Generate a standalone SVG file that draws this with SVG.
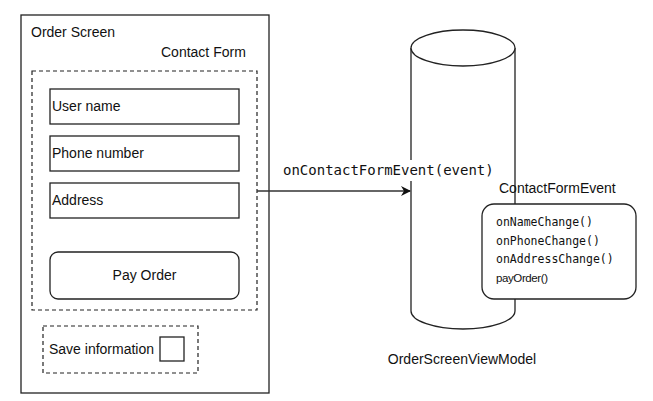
<svg xmlns="http://www.w3.org/2000/svg" width="653" height="401" viewBox="0 0 653 401">
<defs>
<style>
.box{fill:#fff;stroke:#222;stroke-width:1.3}
.dash{fill:none;stroke:#222;stroke-width:1.2;stroke-dasharray:4 3}
.t{font-family:"Liberation Sans",Arial,sans-serif;font-size:14px;fill:#111}
.m{font-family:"DejaVu Sans Mono",monospace;font-size:11.5px;fill:#111}
.conn{fill:none;stroke:#333;stroke-width:1.3}
</style>
<marker id="arr" markerWidth="10" markerHeight="10" refX="9" refY="5" orient="auto" markerUnits="userSpaceOnUse">
<path d="M0,0 L10,5 L0,10 L3,5 Z" fill="#111"/>
</marker>
</defs>
<rect width="653" height="401" fill="#fff"/>
<g id="order-screen">
<rect class="box" x="21" y="15" width="248" height="378"/>
<text class="t" x="31" y="37">Order Screen</text>
</g>
<g id="contact-form">
<rect class="dash" x="32" y="71" width="225" height="239"/>
<text class="t" x="161" y="57">Contact Form</text>
</g>
<g id="user-name">
<rect class="box" x="50" y="89" width="189" height="35"/>
<text class="t" x="52" y="111">User name</text>
</g>
<g id="phone-number">
<rect class="box" x="50" y="136" width="189" height="35"/>
<text class="t" x="52" y="158">Phone number</text>
</g>
<g id="address">
<rect class="box" x="50" y="183" width="189" height="35"/>
<text class="t" x="52" y="205">Address</text>
</g>
<g id="pay-order">
<rect class="box" x="50" y="252" width="189" height="47" rx="8"/>
<text class="t" x="144.5" y="280" text-anchor="middle">Pay Order</text>
</g>
<g id="save-information">
<rect class="dash" x="43" y="326" width="155" height="47"/>
<text class="t" x="49" y="354">Save information</text>
<rect class="box" x="160" y="337" width="24" height="24"/>
</g>
<g id="view-model">
<path class="box" d="M411,48 L411,311 A52,18 0 0 0 515,311 L515,48"/>
<ellipse class="box" cx="463" cy="48" rx="52" ry="18"/>
<text class="t" x="462" y="364" text-anchor="middle">OrderScreenViewModel</text>
</g>
<g id="connectors">
<path class="conn" d="M257,191 L410,191" marker-end="url(#arr)"/>
<rect x="280" y="160" width="216" height="21" fill="#fff"/>
<text x="283" y="175" font-family="'DejaVu Sans Mono',monospace" font-size="14px" fill="#111">onContactFormEvent(event)</text>
</g>
<g id="contact-form-event">
<text class="t" x="499" y="193">ContactFormEvent</text>
<rect class="box" x="482" y="204" width="154" height="95" rx="12"/>
<text class="m" x="496" y="226">onNameChange()</text>
<text class="m" x="496" y="245">onPhoneChange()</text>
<text class="m" x="496" y="263">onAddressChange()</text>
<text x="496" y="282" font-family="'Liberation Sans',Arial,sans-serif" font-size="11.5px" letter-spacing="-0.4" fill="#111">payOrder()</text>
</g>
</svg>
